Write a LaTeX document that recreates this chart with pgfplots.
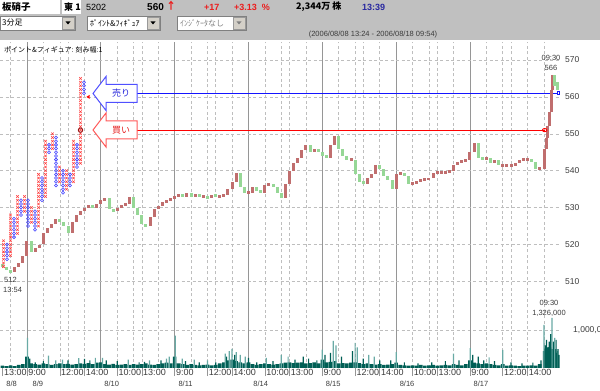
\documentclass[border=0pt]{standalone}
\usepackage{fontspec}
\setmainfont{Liberation Sans}
\newfontfamily\cjk{Noto Sans CJK JP}
\usepackage{pgfplots}
\pgfplotsset{compat=1.18}
\usepackage{pgfplotstable}
\definecolor{hdrgray}{RGB}{192,192,192}
\definecolor{btngray}{RGB}{212,208,200}
\definecolor{labgray}{RGB}{60,60,60}
\definecolor{gridgray}{RGB}{190,190,190}
\definecolor{daygray}{RGB}{150,150,150}
\definecolor{upred}{RGB}{192,110,110}
\definecolor{dngreen}{RGB}{150,215,150}
\definecolor{voldark}{RGB}{0,95,85}
\definecolor{vollight}{RGB}{105,170,165}
\definecolor{pfred}{RGB}{255,60,60}
\definecolor{pfblue}{RGB}{60,60,255}
\definecolor{sellblue}{RGB}{20,20,255}
\definecolor{buyred}{RGB}{255,0,0}
\definecolor{hred}{RGB}{235,30,30}
\definecolor{hblue}{RGB}{40,40,160}

\pgfplotstableread{
x o c
180 514.5 514
195 514 513
210 513 512.5
225 512.5 514
240 514 515
255 515 517
270 517 521
285 521 518
300 518 519
315 519 520
330 520 523
345 523 524.5
360 524.5 525.5
375 525.5 527
390 527 526
405 526 525
420 525 523
435 523 526
450 526 528
465 528 529
480 529 530
495 530 530.5
510 530.5 530
525 530 531
540 531 532
555 532 532.5
570 532.5 529.5
585 529.5 529
600 529 530
615 530 530.5
630 530.5 531
645 531 533
660 533 530
675 530 528
690 528 525.5
705 525.5 525
720 525 527.5
735 527.5 529.5
750 529.5 530.5
765 530.5 531.5
780 531.5 532
795 532 532.5
810 532.5 533
825 533 533.5
840 533.5 533
855 533 534
870 534 533
885 533 533.5
900 533.5 533
915 533 533
930 533 532.5
945 532.5 533.5
960 533.5 533
975 533 533
990 533 533.5
1005 533.5 535
1020 535 537
1035 537 539.5
1050 539.5 535.5
1065 535.5 534
1080 534 534
1095 534 535.5
1110 535.5 534.5
1125 534.5 534
1140 534 536
1155 536 536.5
1170 536.5 535.5
1185 535.5 534
1200 534 532.5
1215 532.5 536.5
1230 536.5 540
1245 540 542
1260 542 543.5
1275 543.5 545.5
1290 545.5 547
1305 547 545
1320 545 546
1335 546 545
1350 545 544
1365 544 543.5
1380 543.5 547
1395 547 549.5
1410 549.5 546
1425 546 544
1440 544 543
1455 543 543
1470 543 539
1485 539 537
1500 537 536.5
1515 536.5 538
1530 538 539
1545 539 541.5
1560 541.5 540.5
1575 540.5 538.5
1590 538.5 537.5
1605 537.5 535
1620 535 539
1635 539 539.5
1650 539.5 538.5
1665 538.5 536.5
1680 536.5 536.5
1695 536.5 537
1710 537 537.5
1725 537.5 537.5
1740 537.5 538
1755 538 539.5
1770 539.5 539.5
1785 539.5 539.5
1800 539.5 539.5
1815 539.5 540
1830 540 541.5
1845 541.5 542.5
1860 542.5 542.5
1875 542.5 543
1890 543 545
1905 545 547.5
1920 547.5 543.5
1935 543.5 543
1950 543 543.5
1965 543.5 542
1980 542 543
1995 543 541.5
2010 541.5 541.5
2025 541.5 541.5
2040 541.5 541.5
2055 541.5 542
2070 542 543
2085 543 543
2100 543 543
2115 543 542.5
2130 542.5 540.5
2145 540.5 540.5
2163 540.5 546
2169 546 549
2175 549 552
2181 552 556
2187 556 562
2193 562 566
2199 566 563
2205 563 564
2211 564 562
}\candles

\pgfplotstableread{
x v
180 0.06
195 0.05
210 0.07
225 0.05
240 0.08
255 0.10
270 0.30
285 0.12
300 0.10
315 0.09
330 0.12
345 0.10
360 0.08
375 0.10
390 0.12
405 0.10
420 0.11
435 0.09
450 0.10
465 0.12
480 0.11
495 0.13
510 0.10
525 0.14
540 0.15
555 0.10
570 0.09
585 0.11
600 0.08
615 0.09
630 0.10
645 0.08
660 0.10
675 0.09
690 0.10
705 0.12
720 0.09
735 0.08
750 0.10
765 0.12
780 0.14
795 0.12
810 0.30
825 0.12
840 0.10
855 0.08
870 0.10
885 0.08
900 0.07
915 0.08
930 0.09
945 0.07
960 0.08
975 0.12
990 0.15
1005 0.20
1020 0.22
1035 0.18
1050 0.15
1065 0.12
1080 0.15
1095 0.10
1110 0.08
1125 0.10
1140 0.12
1155 0.10
1170 0.09
1185 0.10
1200 0.12
1215 0.14
1230 0.15
1245 0.13
1260 0.14
1275 0.15
1290 0.12
1305 0.13
1320 0.15
1335 0.12
1350 0.22
1365 0.15
1380 0.16
1395 0.18
1410 0.12
1425 0.13
1440 0.12
1455 0.14
1470 0.15
1485 0.13
1500 0.10
1515 0.12
1530 0.10
1545 0.09
1560 0.10
1575 0.08
1590 0.09
1605 0.10
1620 0.14
1635 0.08
1650 0.07
1665 0.06
1680 0.07
1695 0.06
1710 0.08
1725 0.06
1740 0.07
1755 0.08
1770 0.06
1785 0.07
1800 0.08
1815 0.07
1830 0.10
1845 0.08
1860 0.07
1875 0.10
1890 0.20
1905 0.14
1920 0.12
1935 0.10
1950 0.12
1965 0.10
1980 0.08
1995 0.07
2010 0.10
2025 0.06
2040 0.07
2055 0.06
2070 0.05
2085 0.06
2100 0.06
2115 0.07
2130 0.06
2145 0.10
2163 0.45
2169 0.50
2175 0.40
2181 0.55
2187 0.50
2193 0.45
2199 0.50
2205 0.40
2211 0.35
}\volbase

\pgfplotstableread{
x v
272 0.80
349 0.33
375 0.20
400 0.22
459 0.26
520 0.27
546 0.27
640 0.22
718 0.20
780 0.25
790 0.30
812 0.86
838 0.25
882 0.22
930 0.20
995 0.38
1010 0.45
1020 0.51
1035 0.42
1050 0.35
1068 0.30
1145 0.27
1200 0.35
1225 0.30
1350 0.49
1390 0.72
1400 0.60
1470 0.67
1478 0.55
1520 0.35
1540 0.30
1620 0.42
1830 0.38
1891 0.53
1960 0.28
2010 0.48
2161 1.15
2190 1.33
2200 0.80
2210 0.45
}\vollight

\pgfplotstableread{
x v
280 0.25
300 0.15
330 0.18
420 0.20
480 0.24
500 0.20
560 0.20
600 0.18
680 0.15
700 0.16
760 0.20
850 0.18
900 0.15
960 0.15
1000 0.30
1030 0.35
1080 0.27
1110 0.15
1170 0.18
1250 0.22
1280 0.30
1300 0.25
1330 0.20
1360 0.35
1380 0.40
1420 0.30
1460 0.45
1500 0.25
1560 0.20
1600 0.20
1650 0.15
1700 0.12
1750 0.15
1800 0.18
1850 0.20
1900 0.35
1920 0.30
1940 0.20
1980 0.18
2040 0.15
2080 0.12
2120 0.14
2150 0.20
2165 0.60
2170 0.75
2175 0.55
2180 0.70
2185 0.90
2195 0.70
2205 0.75
2212 0.50
}\voldarkt

\begin{document}
\begin{tikzpicture}
\begin{scope}[x=1pt,y=1pt]
\fill[white] (0,0) rectangle (600,391);
% ---------- header ----------
\fill[hdrgray] (0,351) rectangle (600,391);
\fill[white] (0,377) rectangle (60,391);
\fill[white] (62,377) rectangle (81,391);
\node[anchor=west,inner sep=0pt,font={\cjk\fontsize{9.5}{10}\selectfont\bfseries}] at (2,384) {板硝子};
\node[anchor=west,inner sep=0pt,font={\cjk\fontsize{9}{10}\selectfont\bfseries}] at (64,384) {東 1};
\node[anchor=west,inner sep=0pt,font={\fontsize{9}{10}\selectfont}] at (86,384) {5202};
\node[anchor=west,inner sep=0pt,font={\fontsize{10}{11}\selectfont\bfseries}] at (147,384) {560};
\node[anchor=west,inner sep=0pt,text=hred,font={\cjk\fontsize{10}{11}\selectfont\bfseries}] at (166,385) {↑};
\node[anchor=west,inner sep=0pt,text=hred,font={\fontsize{9}{10}\selectfont\bfseries}] at (204,384) {+17};
\node[anchor=west,inner sep=0pt,text=hred,font={\fontsize{9}{10}\selectfont\bfseries}] at (234,384) {+3.13\ \ \%};
\node[anchor=west,inner sep=0pt,font={\cjk\fontsize{9}{10}\selectfont\bfseries}] at (296,384) {2,344万 株};
\node[anchor=west,inner sep=0pt,text=hblue,font={\fontsize{9}{10}\selectfont\bfseries}] at (362,384) {13:39};
\filldraw[fill=white,draw=gray] (0,361) rectangle (75,375);
\filldraw[fill=btngray,draw=gray!80] (62,362) rectangle (74,374);
\fill[black] (65.5,369.5) -- (70.5,369.5) -- (68,366.5) -- cycle;
\filldraw[fill=white,draw=gray] (87,361) rectangle (160,375);
\filldraw[fill=btngray,draw=gray!80] (147,362) rectangle (159,374);
\fill[black] (150.5,369.5) -- (155.5,369.5) -- (153,366.5) -- cycle;
\filldraw[fill=white,draw=gray] (177,361) rectangle (246,375);
\filldraw[fill=btngray,draw=gray!80] (233,362) rectangle (245,374);
\fill[gray] (236.5,369.5) -- (241.5,369.5) -- (239,366.5) -- cycle;
\node[anchor=west,inner sep=0pt,font={\cjk\fontsize{8}{9}\selectfont}] at (2,368) {3分足};
\node[anchor=west,inner sep=0pt,font={\cjk\fontsize{8}{9}\selectfont}] at (90,368) {ﾎﾟｲﾝﾄ\&ﾌｨｷﾞｭｱ};
\node[anchor=west,inner sep=0pt,text=gray,font={\cjk\fontsize{8}{9}\selectfont}] at (180,368) {ｲﾝｼﾞｹｰﾀなし};
\node[inner sep=0pt,text=labgray,font={\fontsize{7.5}{8}\selectfont}] at (373,356) {(2006/08/08 13:24 - 2006/08/18 09:54)};
\end{scope}

% ---------- volume axis (also carries the time grid) ----------
\begin{axis}[
  at={(0pt,23pt)}, anchor=south west, scale only axis, width=560pt, height=326pt,
  xmin=171.3, xmax=2219.2, ymin=0, ymax=8.67,
  axis line style={draw=none},
  clip mode=individual,
  xtick={181,270,390,480,600,690,810,930,1020,1140,1230,1350,1470,1560,1680,1770,1890,2010,2100},
  xticklabels={13:00,9:00,12:00,14:00,10:00,13:00,9:00,12:00,14:00,10:00,13:00,9:00,12:00,14:00,10:00,13:00,9:00,12:00,14:00},
  xtick pos=left, xticklabel pos=left, tick align=outside, major tick length=8pt,
  xtick style={draw=daygray,line width=0.6pt},
  xticklabel style={font={\fontsize{9}{10}\selectfont}, text=labgray, anchor=north west, inner sep=0pt, xshift=1.2pt, yshift=7pt},
  minor xtick={210,330,390,420,480,600,660,690,750,870,930,960,1020,1140,1200,1230,1290,1410,1470,1500,1560,1680,1740,1770,1830,1950,2010,2040,2100,2160},
  xminorgrids=true, minor tick length=0pt,
  minor grid style={gridgray, dash pattern=on 3pt off 2.5pt, line width=0.6pt},
  extra x ticks={270,540,810,1080,1350,1620,1890}, extra x tick labels={},
  extra x tick style={grid=major, major grid style={solid,daygray,line width=0.9pt}, major tick length=0pt},
  ytick={1}, yticklabels={1{,}000{,}000}, yticklabel pos=right, ymajorgrids=true,
  major grid style={gridgray, dash pattern=on 3pt off 2.5pt, line width=0.6pt},
  ytick style={draw=none},
  yticklabel style={font={\fontsize{8.5}{9}\selectfont}, text=labgray, anchor=west, inner sep=0pt, xshift=5pt},
]
\addplot[ybar, bar shift=0pt, bar width=3.6pt, fill=voldark, draw=none] table[x=x,y=v] {\volbase};
\addplot[ybar, bar shift=0pt, bar width=1.2pt, fill=vollight, draw=none] table[x=x,y=v] {\vollight};
\addplot[ybar, bar shift=0pt, bar width=1.2pt, fill=voldark, draw=none] table[x=x,y=v] {\voldarkt};
\node[font={\fontsize{7.5}{8}\selectfont}, text=labgray, inner sep=0pt, yshift=-16pt] at (axis cs:214,0) {8/8};
\node[font={\fontsize{7.5}{8}\selectfont}, text=labgray, inner sep=0pt, yshift=-16pt] at (axis cs:310,0) {8/9};
\node[font={\fontsize{7.5}{8}\selectfont}, text=labgray, inner sep=0pt, yshift=-16pt] at (axis cs:580,0) {8/10};
\node[font={\fontsize{7.5}{8}\selectfont}, text=labgray, inner sep=0pt, yshift=-16pt] at (axis cs:850,0) {8/11};
\node[font={\fontsize{7.5}{8}\selectfont}, text=labgray, inner sep=0pt, yshift=-16pt] at (axis cs:1125,0) {8/14};
\node[font={\fontsize{7.5}{8}\selectfont}, text=labgray, inner sep=0pt, yshift=-16pt] at (axis cs:1390,0) {8/15};
\node[font={\fontsize{7.5}{8}\selectfont}, text=labgray, inner sep=0pt, yshift=-16pt] at (axis cs:1660,0) {8/16};
\node[font={\fontsize{7.5}{8}\selectfont}, text=labgray, inner sep=0pt, yshift=-16pt] at (axis cs:1930,0) {8/17};
\end{axis}

% ---------- price axis ----------
\begin{axis}[
  at={(0pt,23pt)}, anchor=south west, scale only axis, width=560pt, height=326pt,
  xmin=171.3, xmax=2219.2, ymin=486.53, ymax=574.88,
  axis line style={draw=none}, xtick=\empty,
  clip mode=individual,
  ytick={510,520,530,540,550,560,570}, yticklabel pos=right, ymajorgrids=true,
  major grid style={gridgray, dash pattern=on 3pt off 2.5pt, line width=0.6pt},
  ytick style={draw=none},
  yticklabel style={font={\fontsize{8.5}{9}\selectfont}, text=labgray, anchor=west, inner sep=0pt, xshift=5pt},
  /pgf/number format/assume math mode=true,
]
\addplot[draw=buyred, line width=1.2pt, mark=none] coordinates {(672,551) (2163,551)};
\addplot[draw=sellblue, line width=1.2pt, mark=none] coordinates {(672,561) (2213,561)};
\addplot[draw=none, mark=none, restrict expr to domain={\thisrow{c}-\thisrow{o}}{-0.001:100},
  error bars/.cd, y dir=both, y explicit, error mark=none,
  error bar style={draw=upred, line width=3pt}]
  table[x=x, y expr={(\thisrow{o}+\thisrow{c})/2}, y error expr={max(abs(\thisrow{c}-\thisrow{o})/2,0.4)}] {\candles};
\addplot[draw=none, mark=none, restrict expr to domain={\thisrow{c}-\thisrow{o}}{-100:-0.001},
  error bars/.cd, y dir=both, y explicit, error mark=none,
  error bar style={draw=dngreen, line width=3pt}]
  table[x=x, y expr={(\thisrow{o}+\thisrow{c})/2}, y error expr={max(abs(\thisrow{c}-\thisrow{o})/2,0.4)}] {\candles};
\addplot[only marks, mark=o, mark size=1.6pt, mark options={draw=buyred, xscale=1.4, line width=0.9pt}] coordinates {(2163,551)};
\addplot[only marks, mark=square, mark size=1.4pt, mark options={draw=sellblue, line width=0.8pt}] coordinates {(2213,561)};
\end{axis}

% ---------- point & figure axis ----------
\begin{axis}[
  at={(0pt,23pt)}, anchor=south west, scale only axis, width=560pt, height=326pt,
  xmin=0, xmax=160, ymin=486.53, ymax=574.88, hide axis,
]
\addplot[only marks, mark=x, mark size=1.8pt, mark options={pfred, line width=0.55pt}] coordinates {
(1,514)(1,515)(1,516)(1,517)(1,518)(1,519)(1,520)(1,521)
(3,517)(3,518)(3,519)(3,520)(3,521)(3,522)(3,523)(3,524)(3,525)(3,526)(3,527)(3,528)
(5,523)(5,524)(5,525)(5,526)(5,527)(5,528)(5,529)(5,530)(5,531)(5,532)(5,533)
(7,529)(7,530)(7,531)(7,532)(7,533)
(9,526)(9,527)(9,528)(9,529)(9,530)
(11,525)(11,526)(11,527)(11,528)(11,529)(11,530)(11,531)(11,532)(11,533)(11,534)(11,535)(11,536)(11,537)(11,538)(11,539)
(13,533)(13,534)(13,535)(13,536)(13,537)(13,538)(13,539)(13,540)(13,541)(13,542)(13,543)(13,544)(13,545)(13,546)(13,547)(13,548)
(15,546)(15,547)(15,548)(15,549)(15,550)
(17,537)(17,538)(17,539)(17,540)(17,541)
(19,535)(19,536)(19,537)(19,538)(19,539)(19,540)
(21,537)(21,538)(21,539)(21,540)(21,541)(21,542)(21,543)(21,544)(21,545)(21,546)(21,547)(21,548)
(23,542)(23,543)(23,544)(23,545)(23,546)(23,547)(23,548)(23,549)(23,550)(23,551)(23,552)(23,553)(23,554)(23,555)(23,556)(23,557)(23,558)(23,559)(23,560)(23,561)(23,562)(23,563)(23,564)(23,565)
};
\addplot[only marks, mark=o, mark size=1.5pt, mark options={pfblue, line width=0.55pt}] coordinates {
(2,516)(2,517)(2,518)(2,519)(2,520)
(4,522)(4,523)(4,524)(4,525)(4,526)(4,527)
(6,528)(6,529)(6,530)(6,531)(6,532)
(8,525)(8,526)(8,527)(8,528)(8,529)(8,530)(8,531)(8,532)
(10,524)(10,525)(10,526)(10,527)(10,528)(10,529)
(12,532)(12,533)(12,534)(12,535)(12,536)(12,537)(12,538)
(14,545)(14,546)(14,547)
(16,536)(16,537)(16,538)(16,539)(16,540)(16,541)(16,542)(16,543)(16,544)(16,545)(16,546)(16,547)(16,548)(16,549)
(18,534)(18,535)(18,536)(18,537)(18,538)(18,539)(18,540)
(20,536)(20,537)(20,538)(20,539)
(22,541)(22,542)(22,543)(22,544)(22,545)(22,546)(22,547)
(24,561)(24,562)(24,563)(24,564)
};
\addplot[only marks, mark=o, mark size=2.2pt, mark options={draw={rgb,255:red,150;green,20;blue,20}, line width=0.9pt}] coordinates {(23,551)};
\addplot[only marks, mark=triangle*, mark size=1.8pt, mark options={fill=buyred, draw=buyred, rotate=90}] coordinates {(25.3,560)};
\end{axis}

% ---------- annotations ----------
\begin{scope}[x=1pt,y=1pt]
\node[anchor=west,inner sep=0pt,font={\cjk\fontsize{7}{8}\selectfont}] at (4,341) {ポイント\&フィギュア: 刻み幅:1};
\filldraw[fill=white, draw={rgb,255:red,80;green,80;blue,255}, line width=1pt, line join=miter]
  (93,297.5) -- (106,314.5) -- (106,306.5) -- (137,306.5) -- (137,288.5) -- (106,288.5) -- (106,280.5) -- cycle;
\node[text={rgb,255:red,40;green,40;blue,220}, font={\cjk\fontsize{9}{10}\selectfont}] at (121,297.5) {売り};
\filldraw[fill=white, draw={rgb,255:red,255;green,90;blue,90}, line width=1pt, line join=miter]
  (93,261) -- (106,278) -- (106,270) -- (137,270) -- (137,252) -- (106,252) -- (106,244) -- cycle;
\node[text={rgb,255:red,230;green,30;blue,30}, font={\cjk\fontsize{9}{10}\selectfont}] at (121,261) {買い};
\node[inner sep=0pt,text=labgray,font={\fontsize{7.5}{8}\selectfont}] at (551,333) {09:30};
\node[inner sep=0pt,text=labgray,font={\fontsize{7.5}{8}\selectfont}] at (551,323) {566};
\node[inner sep=0pt,text=labgray,font={\fontsize{7.5}{8}\selectfont}] at (549,88) {09:30};
\node[inner sep=0pt,text=labgray,font={\fontsize{7.5}{8}\selectfont}] at (549,78) {1,326,000};
\node[anchor=west,inner sep=0pt,text=labgray,font={\fontsize{7.5}{8}\selectfont}] at (4,111) {512};
\node[anchor=west,inner sep=0pt,text=labgray,font={\fontsize{7.5}{8}\selectfont}] at (3,101) {13:54};
\end{scope}
\pgfresetboundingbox
\path[use as bounding box] (0pt,0pt) rectangle (600pt,391pt);
\end{tikzpicture}
\end{document}
